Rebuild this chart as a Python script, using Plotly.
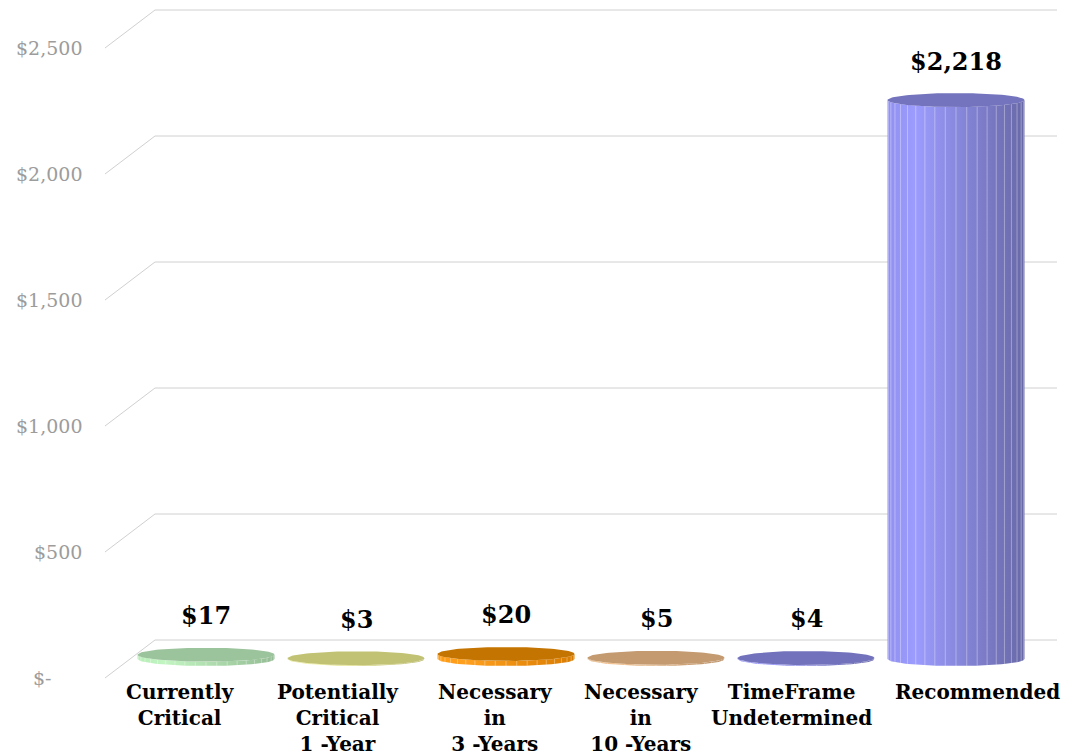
import numpy as np
import plotly.graph_objects as go

# ---- data ----
categories = [
    "Currently<br>Critical",
    "Potentially<br>Critical<br>1 -Year",
    "Necessary<br>in<br>3 -Years",
    "Necessary<br>in<br>10 -Years",
    "TimeFrame<br>Undetermined",
    "Recommended",
]
values = [17, 3, 20, 5, 4, 2218]
value_labels = ["$17", "$3", "$20", "$5", "$4", "$2,218"]
tick_values = [0, 500, 1000, 1500, 2000, 2500]
tick_labels = ["$-", "$500", "$1,000", "$1,500", "$2,000", "$2,500"]

# side gradient (left, highlight, right) and top colour for each cylinder
side_colors = [
    ("#b6ecb6", "#c2f5c2", "#94bc94"),
    ("#e6e690", "#f0f09a", "#b8b86a"),
    ("#ff9a10", "#ffa020", "#d87c00"),
    ("#e8b886", "#f2c290", "#b88e64"),
    ("#9090f0", "#9c9cff", "#6868a8"),
    ("#9090f0", "#9c9cff", "#6868a8"),
]
top_colors = ["#9cc49c", "#c2c274", "#c47400", "#c49a70", "#7272bc", "#7474be"]

# ---- geometry (pixels) ----
W, H = 1080, 755
X0_PX, STEP_PX = 206, 150          # first category centre, category spacing
BASE_PX = 659                      # pixel row of value 0 on the mid plane
PX_PER_UNIT = 126 / 500            # vertical scale
DEPTH_DX, DEPTH_DY = 25, 19        # half-depth of the floor (oblique offset)
HALF_W_PX, RY_PX = 68.5, 7         # cylinder half width, ellipse half height
WALL_LEFT_PX, WALL_RIGHT_PX = 155, 1057
N_FACETS = 20                      # facets across the visible half of a cylinder
LABEL_XSHIFT = [-26, -18, -11, -15, -15, 21]   # category label nudges (px)

ux = 1 / STEP_PX                   # x data units per pixel
uy = 1 / PX_PER_UNIT               # y data units per pixel
x_range = [(0 - X0_PX) * ux, (W - X0_PX) * ux]
y_min = -(H - BASE_PX) * uy
y_range = [y_min, y_min + H * uy]

hw = HALF_W_PX * ux
ry = RY_PX * uy
dxd, dyd = DEPTH_DX * ux, DEPTH_DY * uy
x_wall_l = (WALL_LEFT_PX - X0_PX) * ux
x_wall_r = (WALL_RIGHT_PX - X0_PX) * ux

fig = go.Figure()

# ---- back wall gridlines and floor-depth diagonals ----
grid_color = "#d0d0d0"
for v in tick_values:
    fig.add_shape(type="line", x0=x_wall_l, x1=x_wall_r, y0=v + dyd, y1=v + dyd,
                  line=dict(color=grid_color, width=1), layer="below")
    fig.add_shape(type="line", x0=x_wall_l - 2 * dxd, x1=x_wall_l, y0=v - dyd, y1=v + dyd,
                  line=dict(color=grid_color, width=1), layer="below")

# ---- cylinders ----
t_front = np.linspace(np.pi, 2 * np.pi, 60)    # lower (front) half of an ellipse
t_full = np.linspace(0, 2 * np.pi, 120)
t_facets = np.linspace(np.pi, 2 * np.pi, N_FACETS + 1)[1:-1]
for i, v in enumerate(values):
    xc = i
    # body: left edge up, front rim of the top, right edge down, front rim of the base
    bx = np.concatenate([[xc - hw], xc + hw * np.cos(t_front), [xc + hw],
                         xc + hw * np.cos(t_front[::-1])])
    by = np.concatenate([[0], v + ry * np.sin(t_front), [0],
                         0 + ry * np.sin(t_front[::-1])])
    c_left, c_hi, c_right = side_colors[i]
    fig.add_trace(go.Scatter(
        x=bx, y=by, mode="lines", line=dict(width=0), fill="toself",
        fillgradient=dict(type="horizontal", start=xc - hw, stop=xc + hw,
                          colorscale=[[0, c_left], [0.2, c_hi], [1, c_right]]),
        hoverinfo="skip", showlegend=False))
    # facet edges on the side
    fx, fy = [], []
    for t in t_facets:
        xe = xc + hw * np.cos(t)
        fx += [xe, xe, None]
        fy += [ry * np.sin(t), v + ry * np.sin(t), None]
    fig.add_trace(go.Scatter(
        x=fx, y=fy, mode="lines", line=dict(width=1, color="rgba(255,255,255,0.35)"),
        hoverinfo="skip", showlegend=False))
    # top cap
    fig.add_trace(go.Scatter(
        x=xc + hw * np.cos(t_full), y=v + ry * np.sin(t_full),
        mode="lines", line=dict(width=0), fill="toself", fillcolor=top_colors[i],
        hoverinfo="skip", showlegend=False))

annotations = []
# value labels
for i, (v, lab) in enumerate(zip(values, value_labels)):
    annotations.append(dict(x=i, y=v, text=lab, showarrow=False, yshift=39,
                            xanchor="center", yanchor="middle",
                            font=dict(family="DejaVu Serif", size=24, color="#000000",
                                      weight="bold")))
# category labels
for i, cat in enumerate(categories):
    annotations.append(dict(x=i, y=0, text=cat, showarrow=False, yshift=-19,
                            xshift=LABEL_XSHIFT[i],
                            xanchor="center", yanchor="top", align="center",
                            font=dict(family="DejaVu Serif", size=20, color="#000000",
                                      weight="bold")))
# value axis labels on the front plane
for v, lab in zip(tick_values, tick_labels):
    txt = lab + "\u00a0" * 5 if v == 0 else lab
    annotations.append(dict(xref="paper", x=84 / W, y=v - dyd, text=txt, showarrow=False,
                            xanchor="right", yanchor="middle",
                            font=dict(family="DejaVu Serif", size=19, color="#9c9c9c")))

fig.update_layout(
    width=W, height=H,
    margin=dict(l=0, r=0, t=0, b=0),
    paper_bgcolor="#ffffff", plot_bgcolor="#ffffff",
    xaxis=dict(range=x_range, visible=False, fixedrange=True),
    yaxis=dict(range=y_range, visible=False, fixedrange=True),
    annotations=annotations,
    showlegend=False,
)

fig.write_html("out.html")
